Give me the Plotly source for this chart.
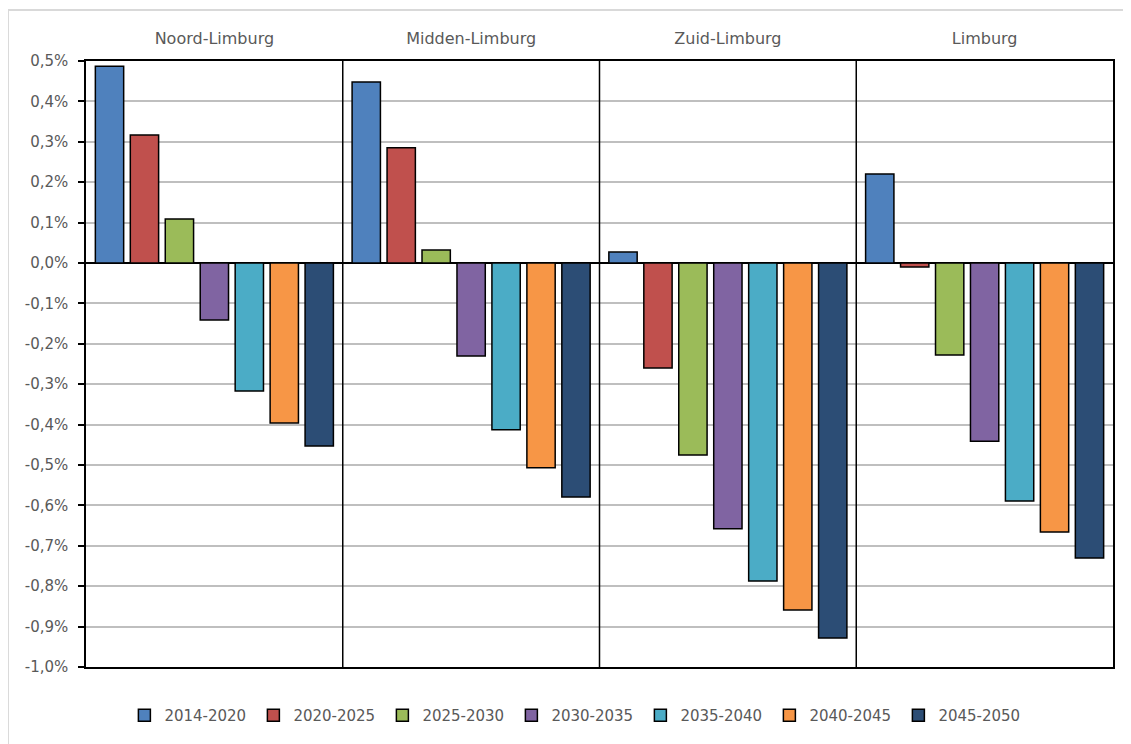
import plotly.graph_objects as go

regions = ["Noord-Limburg", "Midden-Limburg", "Zuid-Limburg", "Limburg"]
periods = ["2014-2020", "2020-2025", "2025-2030", "2030-2035", "2035-2040", "2040-2045", "2045-2050"]
colors = ["#4F81BD", "#C0504D", "#9BBB59", "#8064A2", "#4BACC6", "#F79646", "#2C4D75"]

# growth per period, fraction (per region in order above)
v_2014_2020 = [0.00487, 0.00448, 0.00027, 0.00220]
v_2020_2025 = [0.00317, 0.00285, -0.00260, -0.00010]
v_2025_2030 = [0.00109, 0.00032, -0.00475, -0.00228]
v_2030_2035 = [-0.00141, -0.00230, -0.00658, -0.00441]
v_2035_2040 = [-0.00317, -0.00413, -0.00787, -0.00589]
v_2040_2045 = [-0.00396, -0.00507, -0.00859, -0.00666]
v_2045_2050 = [-0.00453, -0.00579, -0.00928, -0.00730]
series = [v_2014_2020, v_2020_2025, v_2025_2030, v_2030_2035, v_2035_2040, v_2040_2045, v_2045_2050]

tick_vals = [0.005, 0.004, 0.003, 0.002, 0.001, 0.0, -0.001, -0.002, -0.003, -0.004,
             -0.005, -0.006, -0.007, -0.008, -0.009, -0.010]
tick_text = ["0,5%", "0,4%", "0,3%", "0,2%", "0,1%", "0,0%", "-0,1%", "-0,2%", "-0,3%", "-0,4%",
             "-0,5%", "-0,6%", "-0,7%", "-0,8%", "-0,9%", "-1,0%"]

FONT = "DejaVu Sans"
GREY = "#595959"

fig = go.Figure()
for name, vals, col in zip(periods, series, colors):
    fig.add_trace(go.Bar(
        x=regions, y=vals, name=name,
        marker=dict(color=col, line=dict(color="black", width=1.5)),
    ))

shapes = []
# chart area border
shapes.append(dict(type="rect", xref="paper", yref="paper",
                   x0=-0.076, x1=1.2, y0=-0.3, y1=1.084,
                   line=dict(color="#D9D9D9", width=2), layer="below"))
# category separators
for xv in [0.5, 1.5, 2.5]:
    shapes.append(dict(type="line", xref="x", yref="paper", x0=xv, x1=xv, y0=0, y1=1,
                       line=dict(color="black", width=1.5)))

fig.update_layout(
    width=1123, height=736,
    margin=dict(l=78, r=18, t=53, b=69),
    paper_bgcolor="white", plot_bgcolor="white",
    barmode="group", bargap=0.047, bargroupgap=0.19,
    font=dict(family=FONT, color=GREY, size=15),
    showlegend=True,
    legend=dict(orientation="h", x=0.477, xanchor="center", y=-0.08, yanchor="middle",
                font=dict(family=FONT, size=15, color=GREY),
                itemwidth=30, traceorder="normal", entrywidth=84),
    shapes=shapes,
    xaxis=dict(side="top", type="category", showgrid=False, ticks="",
               showline=True, linecolor="black", linewidth=1.5, mirror=True,
               tickfont=dict(family=FONT, size=16, color=GREY),
               ticklabelstandoff=9),
    yaxis=dict(range=[-0.010, 0.005], tickvals=tick_vals, ticktext=tick_text,
               showgrid=True, gridcolor="#BFBFBF", gridwidth=1.5,
               zeroline=True, zerolinecolor="black", zerolinewidth=2,
               showline=True, linecolor="black", linewidth=1.5, mirror=True,
               ticks="outside", ticklen=6, tickcolor="black", tickwidth=1.5,
               ticklabelstandoff=7,
               tickfont=dict(family=FONT, size=15, color=GREY)),
)

fig.write_html("out.html")
